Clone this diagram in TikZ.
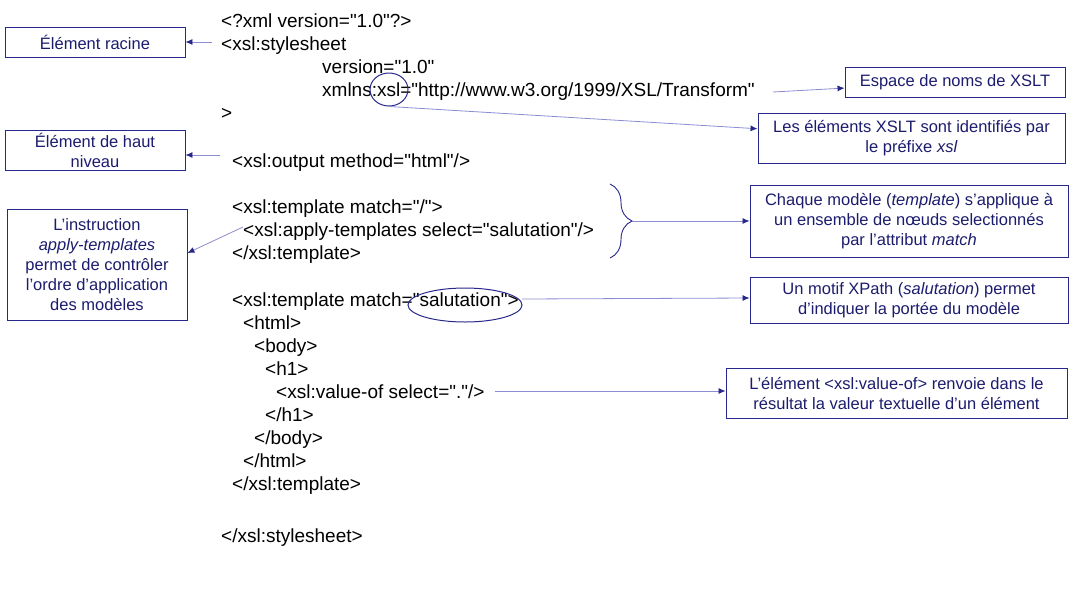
\documentclass[tikz,border=0pt]{standalone}
\usepackage{fontspec}
\setmainfont{Liberation Sans}[Ligatures=TeXOff]
\usetikzlibrary{arrows.meta,shapes.geometric,decorations.pathreplacing}
\definecolor{ink}{RGB}{28,28,110}
\definecolor{frame}{RGB}{40,40,140}
\definecolor{wire}{RGB}{140,140,210}
\begin{document}
\begin{tikzpicture}[x=1pt,y=-1pt,
  code/.style={anchor=base west,inner sep=0pt,font=\fontsize{19}{23}\selectfont},
  note/.style={draw=frame,line width=0.9pt,text=ink,align=center,inner sep=0pt,
    font=\fontsize{16.5}{20}\selectfont},
  ring/.style={ellipse,draw=frame,line width=1pt,inner sep=0pt},
  conn/.style={draw=wire,line width=0.8pt,-{Latex[length=7pt,width=6pt,color=frame]}}]
\useasboundingbox (0,0) rectangle (1071,590);

% the XSLT listing
\node[code] (c1)  at (221,27)  {<?xml version="1.0"?>};
\node[code] (c2)  at (221,50)  {<xsl:stylesheet};
\node[code] (c3)  at (322,73)  {version="1.0"};
\node[code] (c4)  at (322,96)  {xmlns:xsl="http://www.w3.org/1999/XSL/Transform"};
\node[code] (c5)  at (221,119) {>};
\node[code] (c6)  at (232,167) {<xsl:output method="html"/>};
\node[code] (c7)  at (232,213) {<xsl:template match="/">};
\node[code] (c8)  at (243,236) {<xsl:apply-templates select="salutation"/>};
\node[code] (c9)  at (232,259) {</xsl:template>};
\node[code] (c10) at (232,306) {<xsl:template match="salutation">};
\node[code] (c11) at (243,329) {<html>};
\node[code] (c12) at (254,352) {<body>};
\node[code] (c13) at (265,375) {<h1>};
\node[code] (c14) at (276,398) {<xsl:value-of select="."/>};
\node[code] (c15) at (265,421) {</h1>};
\node[code] (c16) at (254,444) {</body>};
\node[code] (c17) at (243,467) {</html>};
\node[code] (c18) at (232,490) {</xsl:template>};
\node[code] (c19) at (221,542) {</xsl:stylesheet>};

% highlighted parts of the listing
\node[ring,minimum width=38pt,minimum height=33pt] (xslring) at (389,89.5) {};
\node[ring,minimum width=114pt,minimum height=34pt] (salring) at (465,305) {};

% annotation boxes
\node[note,minimum width=180pt,minimum height=30pt] (racine) at (95,42) {Élément racine};
\node[note,minimum width=180pt,minimum height=40pt] (haut) at (95,150) {Élément de haut\\niveau};
\node[note,minimum width=180pt,minimum height=111pt] (instr) at (97,264.5)
  {L’instruction\\\textit{apply-templates}\\permet de contrôler\\l’ordre d’application\\des modèles};
\node[note,minimum width=220pt,minimum height=30pt] (espace) at (955,82) {Espace de noms de XSLT};
\node[note,minimum width=307pt,minimum height=50pt] (elts) at (911.5,138)
  {Les éléments XSLT sont identifiés par\\le préfixe \textit{xsl}};
\node[note,minimum width=318pt,minimum height=72pt] (chaque) at (909,221)
  {Chaque modèle (\textit{template}) s’applique à\\un ensemble de nœuds selectionnés\\par l’attribut \textit{match}};
\node[note,minimum width=318pt,minimum height=46pt] (motif) at (909,300)
  {Un motif XPath (\textit{salutation}) permet\\d’indiquer la portée du modèle};
\node[note,minimum width=341pt,minimum height=50pt] (valeur) at (896.5,393)
  {L’élément <xsl:value-of> renvoie dans le\\résultat la valeur textuelle d’un élément};

% brace grouping the first template
\draw[frame,line width=0.9pt,decorate,decoration={brace,amplitude=22pt}]
  (610,184) -- (610,258);
\coordinate (bracetip) at (632,221);

% free ends of the connectors
\coordinate (s2) at (212,42);
\coordinate (s6) at (220,155);
\coordinate (s8) at (243,227);
\coordinate (surl) at (773,92);
\coordinate (s10) at (522,299);
\coordinate (s14) at (495,391);

% connectors
\draw[conn] (s2) -- (racine);
\draw[conn] (s6) -- (s6 -| haut.east);
\draw[conn] (s8) -- (instr.east |- 0,253);
\draw[conn] (surl) -- (espace);
\draw[conn] (xslring.south) -- (elts);
\draw[conn] (bracetip) -- (chaque);
\draw[conn] (s10) -- (motif.west |- 0,298);
\draw[conn] (s14) -- (s14 -| valeur.west);
\end{tikzpicture}
\end{document}
